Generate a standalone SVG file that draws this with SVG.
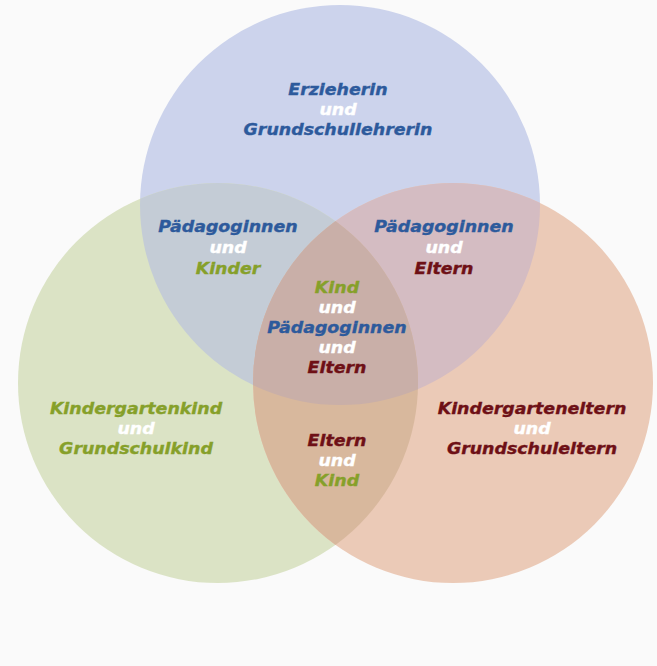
<svg xmlns="http://www.w3.org/2000/svg" width="657" height="666" viewBox="0 0 657 666">
<style>
text{font-family:"DejaVu Sans","Verdana",sans-serif;font-weight:bold;font-style:italic;font-size:15px;text-anchor:middle;stroke-width:0.35}
.b{fill:#2d5a9c;stroke:#2d5a9c}.g{fill:#86a02a;stroke:#86a02a}.r{fill:#6e1016;stroke:#6e1016}.w{fill:#ffffff;stroke:#ffffff}
</style>
<defs>
<circle id="cT" cx="340" cy="205" r="200"/>
<circle id="cL" cx="218" cy="383" r="200"/>
<circle id="cR" cx="453" cy="383" r="200"/>
<clipPath id="kL"><use href="#cL"/></clipPath>
<clipPath id="kR"><use href="#cR"/></clipPath>
</defs>
<rect width="657" height="666" fill="#fafafa"/>
<g id="circles">
<use href="#cT" fill="#ccd3ec"/>
<use href="#cL" fill="#dbe3c5"/>
<use href="#cR" fill="#ebcab7"/>
<use href="#cT" fill="#c4ccd6" clip-path="url(#kL)"/>
<use href="#cT" fill="#d4bcc2" clip-path="url(#kR)"/>
<use href="#cL" fill="#d8b89d" clip-path="url(#kR)"/>
<g clip-path="url(#kL)"><use href="#cT" fill="#c9afa8" clip-path="url(#kR)"/></g>
</g>
<g id="top" transform="translate(338,0) scale(1.16,1)">
<text class="b" x="0" y="95">Erzieherin</text>
<text class="w" x="0" y="115">und</text>
<text class="b" x="0" y="135">Grundschullehrerin</text>
</g>
<g id="top-left" transform="translate(228,0) scale(1.16,1)">
<text class="b" x="0" y="232">Pädagoginnen</text>
<text class="w" x="0" y="253">und</text>
<text class="g" x="0" y="274">Kinder</text>
</g>
<g id="top-right" transform="translate(444,0) scale(1.16,1)">
<text class="b" x="0" y="232">Pädagoginnen</text>
<text class="w" x="0" y="253">und</text>
<text class="r" x="0" y="274">Eltern</text>
</g>
<g id="center" transform="translate(337,0) scale(1.16,1)">
<text class="g" x="0" y="293">Kind</text>
<text class="w" x="0" y="313">und</text>
<text class="b" x="0" y="333">Pädagoginnen</text>
<text class="w" x="0" y="353">und</text>
<text class="r" x="0" y="373">Eltern</text>
</g>
<g id="left" transform="translate(136,0) scale(1.16,1)">
<text class="g" x="0" y="414">Kindergartenkind</text>
<text class="w" x="0" y="434">und</text>
<text class="g" x="0" y="454">Grundschulkind</text>
</g>
<g id="right" transform="translate(532,0) scale(1.16,1)">
<text class="r" x="0" y="414">Kindergarteneltern</text>
<text class="w" x="0" y="434">und</text>
<text class="r" x="0" y="454">Grundschuleltern</text>
</g>
<g id="bottom" transform="translate(337,0) scale(1.16,1)">
<text class="r" x="0" y="446">Eltern</text>
<text class="w" x="0" y="466">und</text>
<text class="g" x="0" y="486">Kind</text>
</g>
<g id="connectors"/>
</svg>
